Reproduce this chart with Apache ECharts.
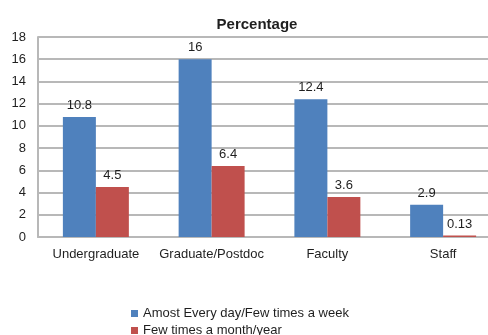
<!DOCTYPE html>
<html>
<head>
<meta charset="utf-8">
<script src="https://cdn.jsdelivr.net/npm/echarts@6/dist/echarts.min.js"></script>
<style>
  html, body { margin: 0; padding: 0; background: #fff; }
  #chart { width: 488px; height: 335px; }
</style>
</head>
<body>
<div id="chart"></div>
<script>
// Groups along the horizontal axis
const categories = ['Undergraduate', 'Graduate/Postdoc', 'Faculty', 'Staff'];
// Share of each group, by frequency
const frequentValues = [10.8, 16, 12.4, 2.9];
const occasionalValues = [4.5, 6.4, 3.6, 0.13];
const seriesNames = ['Amost Every day/Few times a week', 'Few times a month/year'];
const yTicks = { min: 0, max: 18, interval: 2 };

const FONT = '"Liberation Sans", Arial, sans-serif';
const TEXT = '#1f1f1f';
const GRID = '#b8b8b8';

const chart = echarts.init(document.getElementById('chart'), null, { renderer: 'canvas' });

const barLabel = {
  show: true,
  position: 'top',
  distance: 5,
  color: TEXT,
  fontFamily: FONT,
  fontSize: 13
};

// One legend block per series, stacked in a column under the plot
const legendRow = (name, top) => ({
  orient: 'horizontal',
  left: 131,
  top: top,
  itemWidth: 7,
  itemHeight: 7,
  icon: 'rect',
  padding: 0,
  textStyle: { fontFamily: FONT, fontSize: 13, color: TEXT },
  data: [name]
});

chart.setOption({
  animation: false,
  title: {
    text: 'Percentage',
    left: 252,
    textAlign: 'center',
    top: 12,
    textStyle: { fontFamily: FONT, fontSize: 15, fontWeight: 'bold', color: TEXT }
  },
  legend: [legendRow(seriesNames[0], 307), legendRow(seriesNames[1], 324)],
  // the plot runs past the right edge of the canvas
  grid: { left: 38, width: 463, top: 37, bottom: 98, containLabel: false, outerBoundsMode: 'none' },
  xAxis: {
    type: 'category',
    data: categories,
    axisLine: { show: true, lineStyle: { color: GRID, width: 2 } },
    axisTick: { show: false },
    axisLabel: { interval: 0, margin: 11, color: TEXT, fontFamily: FONT, fontSize: 13 }
  },
  yAxis: {
    type: 'value',
    min: yTicks.min,
    max: yTicks.max,
    interval: yTicks.interval,
    axisLine: { show: true, lineStyle: { color: GRID, width: 2 } },
    axisTick: { show: false },
    axisLabel: { margin: 12, color: TEXT, fontFamily: FONT, fontSize: 13 },
    splitLine: { show: true, lineStyle: { color: GRID, width: 2 } }
  },
  series: [
    {
      name: seriesNames[0],
      type: 'bar',
      data: frequentValues,
      barGap: '0%',
      barCategoryGap: '43%',
      itemStyle: { color: '#4F81BD' },
      label: barLabel
    },
    {
      name: seriesNames[1],
      type: 'bar',
      data: occasionalValues,
      barGap: '0%',
      barCategoryGap: '43%',
      itemStyle: { color: '#C0504D' },
      label: barLabel
    }
  ]
});
</script>
</body>
</html>
